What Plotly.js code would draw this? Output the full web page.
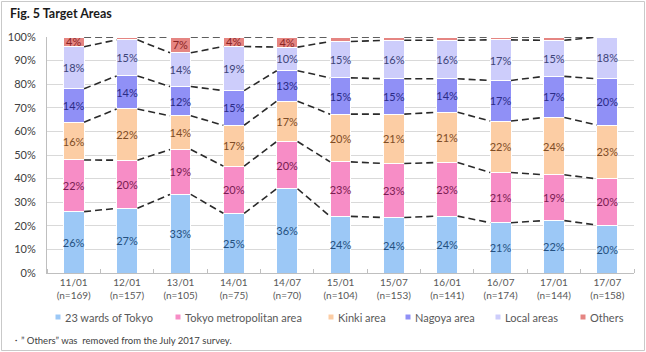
<!DOCTYPE html>
<html>
<head>
<meta charset="utf-8">
<script src="https://cdn.plot.ly/plotly-3.0.1.min.js"></script>
<style>
  html, body { margin: 0; padding: 0; background: #fff; }
  #chart { width: 646px; height: 352px; }
</style>
</head>
<body>
<div id="chart"></div>
<script>
// Survey waves and their sample sizes
const categories = ['11/01','12/01','13/01','14/01','14/07','15/01','15/07','16/01','16/07','17/01','17/07'];
const sampleSizes = [169, 157, 105, 75, 70, 104, 153, 141, 174, 144, 158];

// Share of respondents by target area (%)
const wards23    = [26.0, 27.4, 33.3, 25.3, 35.7, 24.0, 23.5, 24.1, 21.3, 22.2, 20.3];
const tokyoMetro = [21.9, 20.4, 19.0, 20.0, 20.0, 23.1, 22.9, 22.7, 21.3, 19.4, 19.6];
const kinki      = [16.0, 21.7, 14.3, 17.3, 17.1, 20.2, 20.9, 21.3, 21.8, 24.3, 22.8];
const nagoya     = [14.2, 14.0, 12.4, 14.7, 12.9, 15.4, 15.0, 14.2, 17.2, 17.4, 19.6];
const localAreas = [17.8, 15.3, 14.3, 18.7, 10.0, 15.4, 16.3, 16.3, 17.2, 15.3, 17.7];
const others     = [ 4.1,  1.2,  6.7,  4.0,  4.3,  1.9,  1.4,  1.4,  1.2,  1.4,  0.0];

const seriesNames = ['23 wards of Tokyo', 'Tokyo metropolitan area', 'Kinki area', 'Nagoya area', 'Local areas', 'Others'];
const seriesData = [wards23, tokyoMetro, kinki, nagoya, localAreas, others];
const fillColors = ['#9cc8f6', '#f78dc6', '#fccda4', '#9090f6', '#cdcdfb', '#e58582'];
const textColors = ['#24507f', '#7a1c52', '#7e4c26', '#2b2b86', '#3d4478', '#8a2424'];

const FONT = 'Lato, "Open Sans", sans-serif';
const BAR_W = 0.39;
const xIdx = categories.map((_, i) => i);
const tickText = categories.map((c, i) => c + '<br>(n=' + sampleSizes[i] + ')');

const traces = [];
seriesData.forEach((vals, s) => {
  traces.push({
    type: 'bar',
    name: seriesNames[s],
    x: xIdx,
    y: vals,
    width: BAR_W,
    marker: { color: fillColors[s], line: { color: '#ffffff', width: 1 } },
    text: vals.map(v => (v >= 3 ? Math.round(v) + '%' : '')),
    textposition: 'inside',
    insidetextanchor: 'middle',
    constraintext: 'none',
    textangle: 0,
    textfont: { family: FONT, size: 11, color: textColors[s] },
    hoverinfo: 'name+y',
    showlegend: false
  });
});

// Dashed series lines joining the segment boundaries of neighbouring bars
const cum = categories.map(() => 0);
seriesData.forEach((vals) => {
  vals.forEach((v, i) => { cum[i] += v; });
  const lx = [], ly = [];
  for (let i = 0; i < categories.length - 1; i++) {
    lx.push(i + BAR_W / 2, i + 1 - BAR_W / 2, null);
    ly.push(cum[i], cum[i + 1], null);
  }
  traces.push({
    type: 'scatter',
    mode: 'lines',
    x: lx,
    y: ly,
    line: { color: '#2a2a2a', width: 1.6, dash: '7px,4px' },
    hoverinfo: 'skip',
    showlegend: false
  });
});

// Plot area geometry in pixels, used for placing the hand-made legend
const PL = 47, PR = 634, PT = 37, PB = 273;
const px = v => (v - PL) / (PR - PL);
const py = v => (PB - v) / (PB - PT);

const legendMarkX = [58, 178, 331, 408, 498, 583];
const legendY = 317;
const shapes = [];
const annotations = [];
seriesNames.forEach((n, s) => {
  shapes.push({
    type: 'rect', xref: 'paper', yref: 'paper',
    x0: px(legendMarkX[s] - 2.5), x1: px(legendMarkX[s] + 2.5),
    y0: py(legendY + 2.5), y1: py(legendY - 2.5),
    fillcolor: fillColors[s], line: { width: 0 }
  });
  annotations.push({
    xref: 'paper', yref: 'paper', x: px(legendMarkX[s] + 5), y: py(legendY),
    xanchor: 'left', yanchor: 'middle', showarrow: false,
    text: n, font: { family: FONT, size: 11, color: '#595959' }
  });
});

// Outer frame
shapes.push({
  type: 'rect', xref: 'paper', yref: 'paper',
  x0: px(1.5), x1: px(644.5), y0: py(350.5), y1: py(1.5),
  line: { color: '#c9c9c9', width: 1 }, fillcolor: 'rgba(0,0,0,0)'
});

annotations.push({
  xref: 'paper', yref: 'paper', x: px(9), y: py(340),
  xanchor: 'left', yanchor: 'middle', showarrow: false,
  text: '\u30fb\u201d Others\u201d was  removed from the July 2017 survey.',
  font: { family: FONT, size: 9.5, color: '#404040' }
});

const layout = {
  width: 646,
  height: 352,
  margin: { l: PL, r: 646 - PR, t: PT, b: 352 - PB },
  paper_bgcolor: '#ffffff',
  plot_bgcolor: '#ffffff',
  barmode: 'stack',
  showlegend: false,
  title: {
    text: '<b>Fig. 5 Target Areas</b>',
    x: 10 / 646, xanchor: 'left', xref: 'container',
    y: 1 - 14 / 352, yanchor: 'middle', yref: 'container',
    font: { family: '"Liberation Sans Narrow", ' + FONT, size: 12.5, color: '#1a1a1a' }
  },
  xaxis: {
    range: [-0.5, categories.length - 0.5],
    tickmode: 'array',
    tickvals: xIdx,
    ticktext: tickText,
    ticks: '',
    showgrid: false,
    zeroline: false,
    showline: true,
    linecolor: '#bfbfbf',
    linewidth: 1,
    tickfont: { family: FONT, size: 10, color: '#595959' },
    minor: { ticks: 'inside', tick0: -0.5, dtick: 1, ticklen: 4, tickcolor: '#bfbfbf', showgrid: false },
    fixedrange: true
  },
  yaxis: {
    range: [0, 100],
    dtick: 10,
    ticksuffix: '%',
    showgrid: true,
    gridcolor: '#d9d9d9',
    gridwidth: 1,
    zeroline: false,
    showline: true,
    linecolor: '#bfbfbf',
    tickfont: { family: FONT, size: 11, color: '#404040' },
    ticks: '',
    ticklabelstandoff: 8,
    fixedrange: true
  },
  shapes: shapes,
  annotations: annotations
};

Plotly.newPlot('chart', traces, layout, { displayModeBar: false, staticPlot: true });
</script>
</body>
</html>
